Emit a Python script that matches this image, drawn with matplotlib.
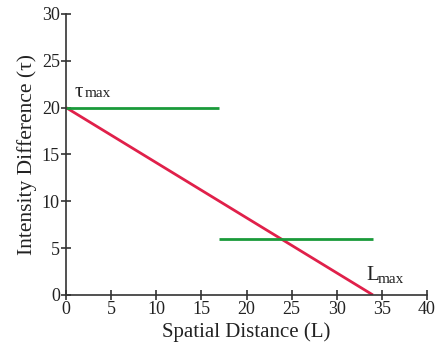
import matplotlib
matplotlib.use("Agg")
import matplotlib.pyplot as plt

plt.rcParams['font.family'] = ['Liberation Serif', 'DejaVu Serif']

# red decreasing line
red_x = [0, 34]
red_y = [20, 0]
# green horizontal segments
green1_x = [0, 17]
green1_y = [20, 20]
green2_x = [17, 34]
green2_y = [6, 6]

xticks = [0, 5, 10, 15, 20, 25, 30, 35, 40]
yticks = [0, 5, 10, 15, 20, 25, 30]

fig = plt.figure(figsize=(4.43, 3.47), dpi=100)
ax = fig.add_axes([0.149, 0.150, 0.815, 0.810])

ax.plot(red_x, red_y, color='#E0204A', lw=2, solid_capstyle='butt')
ax.plot(green1_x, green1_y, color='#1A9A3A', lw=2, solid_capstyle='butt')
ax.plot(green2_x, green2_y, color='#1A9A3A', lw=2, solid_capstyle='butt')

# labels with small "max" subscripts
ax.text(0.9, 21.1, 'τ', fontsize=15, ha='left', va='baseline', color='#222222')
ax.text(2.05, 21.1, 'max', fontsize=11, ha='left', va='baseline', color='#222222')
ax.text(33.3, 1.6, 'L', fontsize=15, ha='left', va='baseline', color='#222222')
ax.text(34.5, 1.3, 'max', fontsize=11, ha='left', va='baseline', color='#222222')

ax.set_xlim(0, 40)
ax.set_ylim(0, 30)
ax.set_xticks(xticks)
ax.set_yticks(yticks)
ax.spines['top'].set_visible(False)
ax.spines['right'].set_visible(False)
for s in ['left', 'bottom']:
    ax.spines[s].set_color('#333333')
    ax.spines[s].set_linewidth(1.2)
ax.tick_params(direction='inout', length=7, width=1.2, color='#333333',
               labelsize=13, pad=1, labelcolor='#222222')
ax.set_xlabel('Spatial Distance (L)', fontsize=15, color='#222222', labelpad=3)
ax.set_ylabel('Intensity Difference (τ)', fontsize=15.5, color='#222222', labelpad=3)

fig.savefig('out.png', dpi=100)
